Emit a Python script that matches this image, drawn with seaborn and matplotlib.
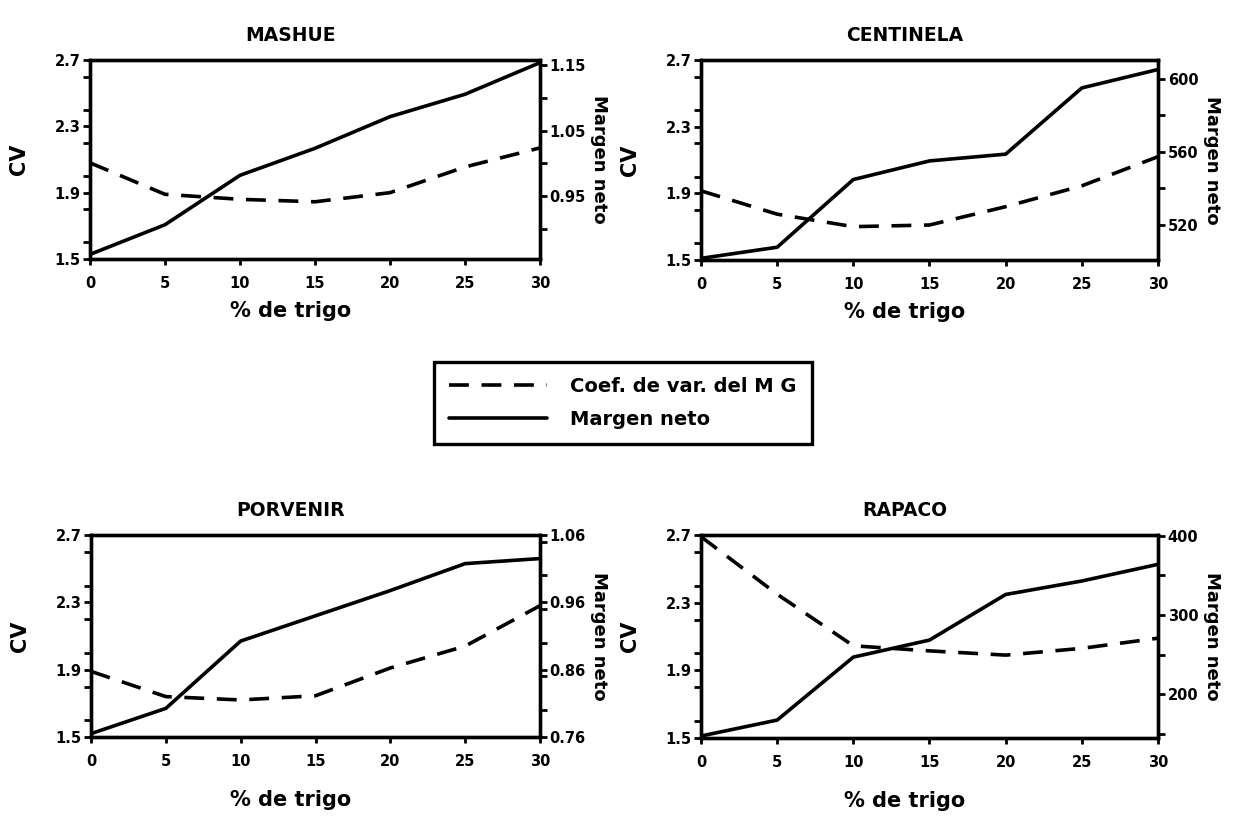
import numpy as np
import pandas as pd
import matplotlib
matplotlib.use("Agg")
import matplotlib.pyplot as plt
import seaborn as sns
from matplotlib.ticker import MultipleLocator, FixedLocator, FixedFormatter
from matplotlib.lines import Line2D

sns.set_theme(style="ticks")
plt.rcParams['font.family'] = ['DejaVu Sans']
plt.rcParams['font.weight'] = 'bold'
for k in ['text.color', 'axes.labelcolor', 'xtick.color', 'ytick.color', 'axes.edgecolor']:
    plt.rcParams[k] = 'black'

trigo = [0, 5, 10, 15, 20, 25, 30]
titles = ["MASHUE", "CENTINELA", "PORVENIR", "RAPACO"]

cv_mashue = [2.08, 1.89, 1.86, 1.845, 1.90, 2.055, 2.17]
mn_mashue = [0.862, 0.907, 0.982, 1.023, 1.071, 1.105, 1.153]

cv_centinela = [1.915, 1.775, 1.70, 1.71, 1.82, 1.945, 2.12]
mn_centinela = [501.6, 507.7, 544.8, 555.0, 558.7, 595.0, 605.1]

cv_porvenir = [1.89, 1.74, 1.72, 1.745, 1.91, 2.04, 2.28]
mn_porvenir = [0.765, 0.8025, 0.9025, 0.94, 0.9775, 1.0175, 1.025]

cv_rapaco = [2.69, 2.35, 2.045, 2.015, 1.99, 2.03, 2.09]
mn_rapaco = [147.5, 167.6, 247.0, 268.5, 326.0, 343.0, 364.0]

cv_ticks = [1.5, 1.9, 2.3, 2.7]
right_ticks = {
    "MASHUE": ([0.95, 1.05, 1.15], ["0.95", "1.05", "1.15"], 0.05, (0.855, 1.157)),
    "CENTINELA": ([520, 560, 600], ["520", "560", "600"], 20, (500.7, 610.3)),
    "PORVENIR": ([0.76, 0.86, 0.96, 1.06], ["0.76", "0.86", "0.96", "1.06"], 0.05, (0.76, 1.06)),
    "RAPACO": ([200, 300, 400], ["200", "300", "400"], 50, (145.0, 401.0)),
}
cv_data = [cv_mashue, cv_centinela, cv_porvenir, cv_rapaco]
mn_data = [mn_mashue, mn_centinela, mn_porvenir, mn_rapaco]

W, H = 1238, 816
fig = plt.figure(figsize=(W / 100, H / 100), dpi=100)

boxes = [(90, 60, 540, 259), (701, 60, 1158, 260), (91, 535, 540, 737), (701, 535, 1158, 738)]
lw = 2.6
dash = (0, (5.5, 3.5))

for i, (name, (x0, y0, x1, y1)) in enumerate(zip(titles, boxes)):
    ax = fig.add_axes([x0 / W, 1 - y1 / H, (x1 - x0) / W, (y1 - y0) / H])
    df = pd.DataFrame({"trigo": trigo, "cv": cv_data[i], "mn": mn_data[i]})
    sns.lineplot(data=df, x="trigo", y="cv", ax=ax, color="black", lw=lw,
                 linestyle=dash, estimator=None)
    ax.set_xlim(0, 30)
    ax.set_ylim(1.5, 2.7)
    ax.yaxis.set_major_locator(FixedLocator(cv_ticks))
    ax.yaxis.set_minor_locator(MultipleLocator(0.2))
    ax.set_xticks(trigo)
    ax.set_xlabel("% de trigo", fontsize=15, fontweight="bold", labelpad=10)
    ax.xaxis.set_label_coords(0.445, -0.21 if i < 2 else -0.26)
    ax.set_ylabel("CV", fontsize=15, fontweight="bold", labelpad=18)
    ax.set_title(name, fontsize=13.5, fontweight="bold", pad=14, x=0.445)
    for s in ax.spines.values():
        s.set_linewidth(2.4)
        s.set_color("black")
    ax.tick_params(axis="both", which="both", direction="out", width=2, colors="black",
                   labelsize=10.5)
    ax.tick_params(axis="y", which="major", length=5, pad=2)
    ax.tick_params(axis="y", which="minor", length=5)
    ax.tick_params(axis="x", which="major", length=4, pad=8)
    for lab in ax.get_xticklabels() + ax.get_yticklabels():
        lab.set_fontweight("bold")

    ax2 = ax.twinx()
    sns.lineplot(data=df, x="trigo", y="mn", ax=ax2, color="black", lw=lw, estimator=None)
    ticks, labels, minor, lim = right_ticks[name]
    ax2.set_ylim(*lim)
    ax2.yaxis.set_major_locator(FixedLocator(ticks))
    ax2.yaxis.set_major_formatter(FixedFormatter(labels))
    ax2.yaxis.set_minor_locator(MultipleLocator(minor))
    ax2.set_ylabel("Margen neto", fontsize=13, fontweight="bold", rotation=270, labelpad=16)
    ax2.tick_params(axis="y", which="both", direction="out", width=2, length=5, pad=2,
                    colors="black", labelsize=10.5)
    for lab in ax2.get_yticklabels():
        lab.set_fontweight("bold")
    for s in ax2.spines.values():
        s.set_linewidth(2.4)
        s.set_color("black")
    ax2.set_xlim(0, 30)

handles = [Line2D([0], [0], color="black", lw=lw, linestyle=dash),
           Line2D([0], [0], color="black", lw=lw)]
leg = fig.legend(handles, ["Coef. de var. del M G", "Margen neto"],
                 loc="center", bbox_to_anchor=(623 / W, 1 - 403 / H),
                 frameon=True, fancybox=False, edgecolor="black",
                 prop={"size": 14, "weight": "bold"}, handlelength=5,
                 borderpad=0.8, labelspacing=0.7, handletextpad=1.2)
frame = leg.get_frame()
frame.set_linewidth(2.4)
frame.set_edgecolor("black")
frame.set_alpha(1)
for t in leg.get_texts():
    t.set_color("black")

fig.savefig("out.png", dpi=100, facecolor="white")
